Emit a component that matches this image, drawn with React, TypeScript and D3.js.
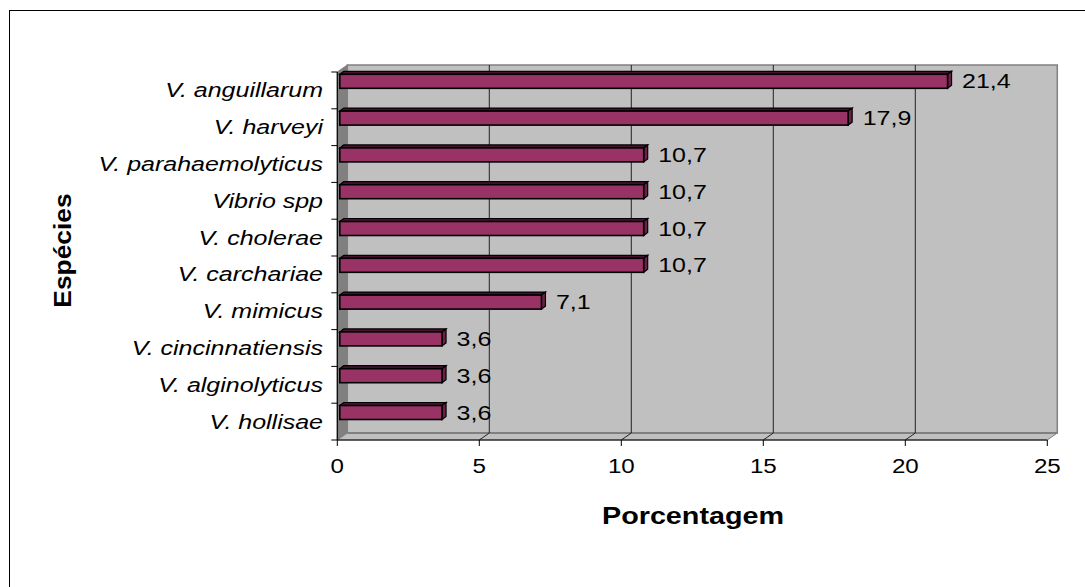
import React from "react";
import * as d3 from "d3";

const species = [
  "V. anguillarum",
  "V. harveyi",
  "V. parahaemolyticus",
  "Vibrio spp",
  "V. cholerae",
  "V. carchariae",
  "V. mimicus",
  "V. cincinnatiensis",
  "V. alginolyticus",
  "V. hollisae",
];
const percentages = [21.4, 17.9, 10.7, 10.7, 10.7, 10.7, 7.1, 3.6, 3.6, 3.6];
const xTicks = [0, 5, 10, 15, 20, 25];

const W = 1085;
const H = 587;
const FONT = "'Liberation Sans', Arial, sans-serif";
const SX = 1.25; // horizontal text stretch

const fmt = d3.formatLocale({ decimal: ",", thousands: ".", grouping: [3], currency: ["", ""] }).format(".1f");

export default function App() {
  const x = d3.scaleLinear().domain([0, 25]).range([337.3, 1047.3]);
  const y = d3.scaleBand<string>().domain(species).range([72, 440]).paddingInner(0);
  const bw = y.bandwidth();

  // depth offset of the back wall
  const DX = 10;
  const DY = -7;
  const floorY = 440;
  const wallTop = 65;
  const x0 = x(0);
  const x25 = x(25);

  // bar 3D geometry
  const barH = 14;
  const bdx = 4;
  const bdy = -3;

  const txt = (
    key: string,
    tx: number,
    ty: number,
    s: string,
    opts: { size: number; anchor?: string; italic?: boolean; bold?: boolean; sx?: number; rotate?: number }
  ) => (
    <text
      key={key}
      transform={`translate(${tx},${ty})${opts.rotate ? ` rotate(${opts.rotate})` : ""} scale(${opts.sx ?? SX},1)`}
      textAnchor={opts.anchor ?? "start"}
      fontFamily={FONT}
      fontSize={opts.size}
      fontStyle={opts.italic ? "italic" : "normal"}
      fontWeight={opts.bold ? "bold" : "normal"}
      fill="#000"
    >
      {s}
    </text>
  );

  return (
    <svg
      width={W}
      height={H}
      style={{ position: "absolute", left: 0, top: 0, background: "#fff" }}
    >
      <rect x={9.5} y={10.5} width={1100} height={600} fill="#fff" stroke="#000" strokeWidth={1} />

      {/* back wall */}
      <rect
        x={x0 + DX}
        y={wallTop}
        width={x25 - x0}
        height={floorY + DY - wallTop}
        fill="#c0c0c0"
        stroke="#808080"
        strokeWidth={1.5}
      />
      {/* side wall */}
      <polygon
        points={`${x0},${wallTop - DY} ${x0 + DX},${wallTop} ${x0 + DX},${floorY + DY} ${x0},${floorY}`}
        fill="#808080"
        stroke="#808080"
      />
      {/* floor */}
      <polygon
        points={`${x0},${floorY} ${x0 + DX},${floorY + DY} ${x25 + DX},${floorY + DY} ${x25},${floorY}`}
        fill="#c0c0c0"
        stroke="#808080"
        strokeWidth={1}
      />
      <line x1={x0 + DX} x2={x25 + DX} y1={floorY + DY} y2={floorY + DY} stroke="#808080" strokeWidth={2} />

      {/* gridlines */}
      {xTicks.slice(1, -1).map((t) => (
        <g key={`g${t}`}>
          <line x1={x(t) + DX} x2={x(t) + DX} y1={wallTop} y2={floorY + DY} stroke="#222" strokeWidth={1} />
          <line x1={x(t)} x2={x(t) + DX} y1={floorY} y2={floorY + DY} stroke="#222" strokeWidth={1} />
        </g>
      ))}

      {/* axes */}
      <line x1={x0} x2={x0} y1={wallTop - DY} y2={floorY} stroke="#000" strokeWidth={1.2} />
      <line x1={x0} x2={x25} y1={floorY} y2={floorY} stroke="#000" strokeWidth={1.2} />
      {species.map((s) => (
        <line key={`yt${s}`} x1={x0 - 6} x2={x0} y1={y(s)!} y2={y(s)!} stroke="#000" />
      ))}
      <line x1={x0 - 6} x2={x0} y1={floorY} y2={floorY} stroke="#000" />
      {xTicks.map((t) => (
        <line key={`xt${t}`} x1={x(t)} x2={x(t)} y1={floorY} y2={floorY + 6} stroke="#000" />
      ))}

      {/* bars */}
      {species.map((s, i) => {
        const v = percentages[i];
        const top = y(s)! + 2.3;
        const left = x(0) + 2.5;
        const right = x(v) + 2.5;
        return (
          <g key={`b${s}`}>
            <polygon
              points={`${left},${top} ${left + bdx},${top + bdy} ${right + bdx},${top + bdy} ${right},${top}`}
              fill="#4a1230"
              stroke="#000"
              strokeWidth={1.2}
            />
            <polygon
              points={`${right},${top} ${right + bdx},${top + bdy} ${right + bdx},${top + barH + bdy} ${right},${top + barH}`}
              fill="#6e1f48"
              stroke="#000"
              strokeWidth={1.2}
            />
            <rect x={left} y={top} width={right - left} height={barH} fill="#993366" stroke="#000" strokeWidth={1.6} />
          </g>
        );
      })}

      {/* value labels */}
      {species.map((s, i) =>
        txt(`v${s}`, x(percentages[i]) + 17, y(s)! + 2.3 + barH / 2 + 7, fmt(percentages[i]), { size: 20 })
      )}

      {/* category labels */}
      {species.map((s) =>
        txt(`c${s}`, 323, y(s)! + bw / 2 + 7, s, { size: 20, anchor: "end", italic: true })
      )}

      {/* tick labels */}
      {xTicks.map((t) => txt(`tl${t}`, x(t), 472.5, String(t), { size: 21, anchor: "middle", sx: 1.15 }))}

      {/* axis titles */}
      {txt("xt", 693, 524, "Porcentagem", { size: 23, anchor: "middle", bold: true, sx: 1.25 })}
      {txt("yt", 71, 250.5, "Espécies", { size: 24, anchor: "middle", bold: true, sx: 1.1, rotate: -90 })}
    </svg>
  );
}
